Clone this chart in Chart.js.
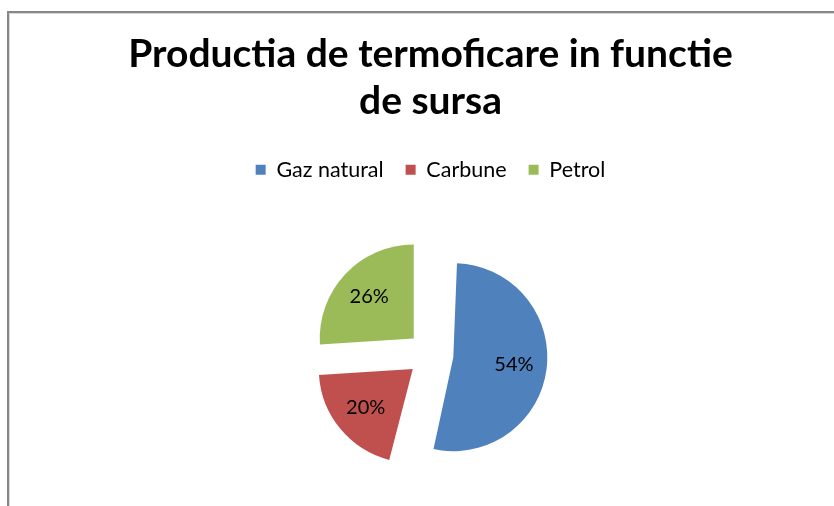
<!DOCTYPE html>
<html lang="ro">
<head>
    <meta charset="UTF-8">
    <title>Productia de termoficare</title>
    <script src="https://cdn.jsdelivr.net/npm/chart.js"></script>
    <style>
        body { margin: 0; background: #fff; }
        #wrap { position: relative; width: 834px; height: 506px; overflow: hidden; }
        #frame {
            position: absolute; left: 7px; top: 11px; width: 900px; height: 600px;
            border-top: 2px solid #878787; border-left: 2px solid #878787;
            box-shadow: inset 1px 1px 0 #d9d9d9;
        }
        canvas { position: absolute; left: 0; top: 0; }
    </style>
</head>
<body>
<div id="wrap">
    <div id="frame"></div>
    <canvas id="pieChart" width="834" height="506"></canvas>
</div>
<script>
    const titleLines = ['Productia de termoficare in functie', 'de sursa'];
    const sources = ['Gaz natural', 'Carbune', 'Petrol'];
    const shares = [54, 20, 26];
    const sliceColors = ['#4F81BD', '#C0504D', '#9BBB59'];

    const pieRadius = 94;
    const sliceOffset = 92;   // Chart.js moves an arc by offset / 4
    const extraBottom = 12;   // room below the canvas edge, pie sits a bit lower

    // let the plot area run past the bottom edge so the pie centre drops
    const lowerPie = {
        id: 'lowerPie',
        afterLayout(chart) {
            chart.chartArea.bottom += extraBottom;
            chart.chartArea.height += extraBottom;
        }
    };

    // Chart.js also grows the radius of exploded arcs wider than ~180deg;
    // undo that so every slice keeps the same radius
    const evenSlices = {
        id: 'evenSlices',
        afterDatasetUpdate(chart, args) {
            args.meta.data.forEach(arc => {
                const grow = sliceOffset / 4 * (1 - Math.sin(Math.min(Math.PI, arc.circumference)));
                arc.outerRadius = pieRadius - grow;
            });
        }
    };

    // percent labels inside each slice
    const percentLabels = {
        id: 'percentLabels',
        afterDatasetsDraw(chart) {
            const ctx = chart.ctx;
            const meta = chart.getDatasetMeta(0);
            ctx.save();
            ctx.font = '20px Lato';
            ctx.fillStyle = '#000';
            ctx.textAlign = 'center';
            ctx.textBaseline = 'middle';
            meta.data.forEach((arc, i) => {
                const mid = (arc.startAngle + arc.endAngle) / 2;
                const dist = sliceOffset / 4 + pieRadius * 0.65;
                ctx.fillText(shares[i] + '%', arc.x + Math.cos(mid) * dist, arc.y + Math.sin(mid) * dist);
            });
            ctx.restore();
        }
    };

    new Chart(document.getElementById('pieChart'), {
        type: 'pie',
        data: {
            labels: sources,
            datasets: [{
                data: shares,
                backgroundColor: sliceColors,
                borderWidth: 0,
                offset: sliceOffset,
                clip: false
            }]
        },
        options: {
            responsive: false,
            animation: false,
            radius: pieRadius,
            layout: { padding: { left: 27, right: 0, top: 24, bottom: 0 } },
            plugins: {
                title: {
                    display: true,
                    text: titleLines,
                    color: '#000',
                    font: { family: 'Lato', size: 39, weight: 'bold', lineHeight: 1.205 },
                    padding: { top: 7.4, bottom: 11.6 }
                },
                legend: {
                    position: 'top',
                    labels: {
                        color: '#000',
                        font: { family: 'Lato', size: 21.5 },
                        boxWidth: 10,
                        boxHeight: 10,
                        padding: 22
                    }
                },
                tooltip: { enabled: false }
            }
        },
        plugins: [lowerPie, evenSlices, percentLabels]
    });
</script>
</body>
</html>
